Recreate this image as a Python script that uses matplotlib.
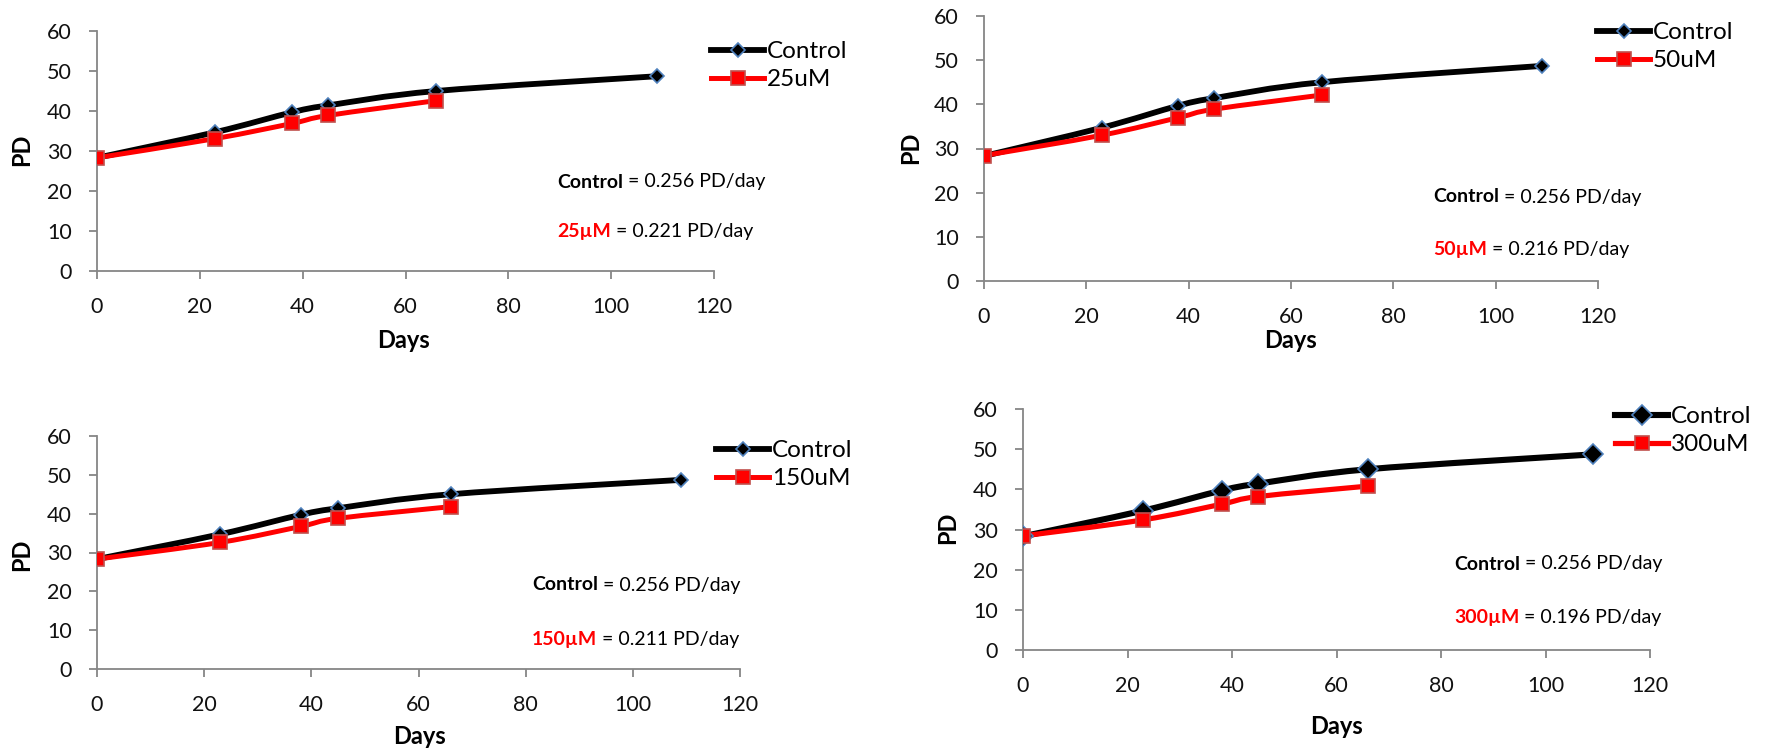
import matplotlib
matplotlib.use("Agg")
import matplotlib.pyplot as plt
from matplotlib.lines import Line2D
from matplotlib.path import Path
from matplotlib.patches import PathPatch

plt.rcParams["font.family"] = ["Lato", "DejaVu Sans"]

W, H = 1769, 750

days_control = [0, 23, 38, 45, 66, 109]
pd_control = [28.3, 34.7, 39.7, 41.4, 45.0, 48.7]
days_treat = [0, 23, 38, 45, 66]

labels_treat = ["25uM", "50uM", "150uM", "300uM"]
labels_rate = ["25\u00b5M", "50\u00b5M", "150\u00b5M", "300\u00b5M"]
pd_treat = [
    [28.3, 33.1, 36.9, 38.9, 42.6],
    [28.4, 33.0, 37.0, 38.9, 42.1],
    [28.3, 32.6, 36.7, 38.8, 41.8],
    [28.4, 32.4, 36.3, 38.2, 40.8],
]
rate_control = "0.256"
rates_treat = ["0.221", "0.216", "0.211", "0.196"]

x_ticks = [0, 20, 40, 60, 80, 100, 120]
y_ticks = [0, 10, 20, 30, 40, 50, 60]

# panel layout in pixels: plot box (left, right, top, bottom), legend anchor,
# annotation (x, y1, y2), "PD" label pos, "Days" label pos
panels = [
    dict(box=(97, 714, 31, 271), leg=(711, 50), ann=(557, 182, 232),
         pd=(22, 150), days=(403, 340), ms=(10, 10.5), lw=4.2),
    dict(box=(984, 1598, 16, 281), leg=(1597, 31), ann=(1433, 197, 250),
         pd=(911, 148), days=(1291, 340), ms=(10, 10.5), lw=4.2),
    dict(box=(97, 740, 436, 669), leg=(716, 449), ann=(532, 585, 639),
         pd=(22, 555), days=(419, 736), ms=(10, 10.5), lw=4.2),
    dict(box=(1023, 1650, 409, 650), leg=(1615, 415), ann=(1454, 564, 618),
         pd=(948, 528), days=(1336, 727), ms=(14, 10.5), lw=4.4),
]

BLACK = "#000000"
RED = "#FF0000"
RED_EDGE = "#C0504D"
BLUE_EDGE = "#4F81BD"
AXIS = "#868686"


def smooth_path(x, y):
    """Bezier path through the points, like Excel's smoothed line."""
    pts = list(zip(x, y))
    n = len(pts)
    verts = [pts[0]]
    codes = [Path.MOVETO]
    for i in range(n - 1):
        p0 = pts[max(i - 1, 0)]
        p1 = pts[i]
        p2 = pts[i + 1]
        p3 = pts[min(i + 2, n - 1)]
        c1 = (p1[0] + (p2[0] - p0[0]) / 6, p1[1] + (p2[1] - p0[1]) / 6)
        c2 = (p2[0] - (p3[0] - p1[0]) / 6, p2[1] - (p3[1] - p1[1]) / 6)
        verts += [c1, c2, p2]
        codes += [Path.CURVE4] * 3
    return Path(verts, codes)


fig = plt.figure(figsize=(W / 100, H / 100), dpi=100)

for k, p in enumerate(panels):
    l, r, t, b = p["box"]
    ax = fig.add_axes([l / W, 1 - b / H, (r - l) / W, (b - t) / H])
    ms_d, ms_s = p["ms"]
    lw = p["lw"]

    ax.add_patch(PathPatch(smooth_path(days_control, pd_control), fill=False,
                           edgecolor=BLACK, lw=lw, capstyle="round", zorder=2))
    ax.plot(days_control, pd_control, ls="none", marker="D", ms=ms_d * 0.75,
            mfc=BLACK, mec=BLUE_EDGE, mew=1.2, zorder=4)
    ax.add_patch(PathPatch(smooth_path(days_treat, pd_treat[k]), fill=False,
                           edgecolor=RED, lw=lw * 0.85, capstyle="round", zorder=3))
    ax.plot(days_treat, pd_treat[k], ls="none", marker="s", ms=ms_s,
            mfc=RED, mec=RED_EDGE, mew=1.2, zorder=5)

    ax.set_xlim(0, 120)
    ax.set_ylim(0, 60)
    ax.set_xticks(x_ticks)
    ax.set_yticks(y_ticks)
    for side in ("top", "right"):
        ax.spines[side].set_visible(False)
    for side in ("left", "bottom"):
        ax.spines[side].set_color(AXIS)
        ax.spines[side].set_linewidth(1.3)
    ax.tick_params(axis="both", direction="out", length=6, width=1.3,
                   color=AXIS, labelsize=15.5, labelcolor="#111111")
    ax.tick_params(axis="x", pad=13)
    ax.tick_params(axis="y", pad=12)
    ax.patch.set_alpha(0)

    # axis titles
    fig.text(p["pd"][0] / W, 1 - p["pd"][1] / H, "PD", rotation=90,
             ha="center", va="center", fontsize=17, fontweight="bold")
    fig.text(p["days"][0] / W, 1 - p["days"][1] / H, "Days",
             ha="center", va="center", fontsize=17, fontweight="bold")

    # legend
    handles = [
        Line2D([], [], color=BLACK, lw=lw, marker="D", ms=ms_d * 0.75,
               mfc=BLACK, mec=BLUE_EDGE, mew=1.2),
        Line2D([], [], color=RED, lw=lw * 0.85, marker="s", ms=ms_s,
               mfc=RED, mec=RED_EDGE, mew=1.2),
    ]
    lx, ly = p["leg"]
    fig.legend(handles, ["Control", labels_treat[k]], loc="upper left",
               bbox_to_anchor=(lx / W, 1 - (ly - 9) / H), frameon=False,
               fontsize=17.5, handlelength=2.2, handletextpad=0.1,
               borderpad=0, borderaxespad=0, labelspacing=0.3)

    # growth-rate annotations
    ax_x, y1, y2 = p["ann"]
    t1 = fig.text(ax_x / W, 1 - y1 / H, "Control", fontsize=14, fontweight="bold",
                  va="center", ha="left")
    ax.annotate(f" = {rate_control} PD/day", xy=(1, 0), xycoords=t1,
                va="bottom", ha="left", fontsize=14, annotation_clip=False)
    t2 = fig.text(ax_x / W, 1 - y2 / H, labels_rate[k], fontsize=14,
                  fontweight="bold", color=RED, va="center", ha="left")
    ax.annotate(f" = {rates_treat[k]} PD/day", xy=(1, 0), xycoords=t2,
                va="bottom", ha="left", fontsize=14, annotation_clip=False)

fig.savefig("out.png", dpi=100)
